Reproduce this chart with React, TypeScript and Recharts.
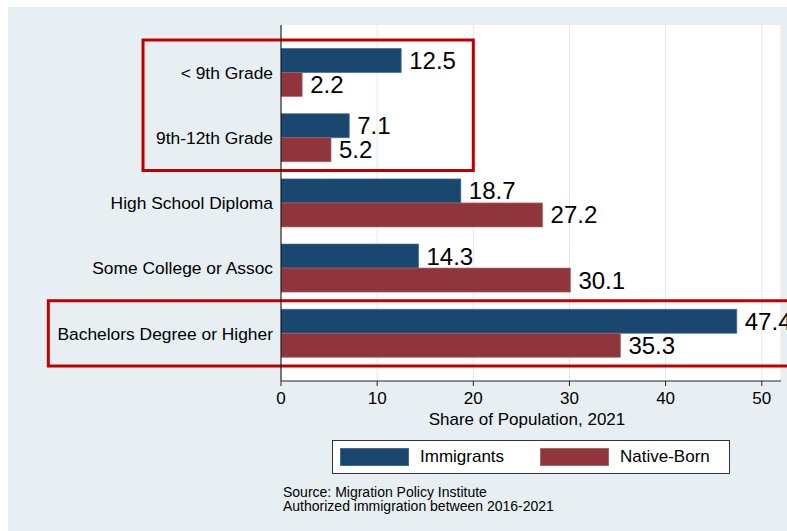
import {
  BarChart,
  Bar,
  XAxis,
  YAxis,
  CartesianGrid,
  LabelList,
  ReferenceArea,
  Label,
} from "recharts";

const categories = [
  "< 9th Grade",
  "9th-12th Grade",
  "High School Diploma",
  "Some College or Assoc",
  "Bachelors Degree or Higher",
];
const immigrants = [12.5, 7.1, 18.7, 14.3, 47.4];
const nativeBorn = [2.2, 5.2, 27.2, 30.1, 35.3];
const xTicks = [0, 10, 20, 30, 40, 50];

const data = categories.map((c, i) => ({
  category: c,
  immigrants: immigrants[i],
  nativeBorn: nativeBorn[i],
}));

const font = '"Liberation Sans", Arial, Helvetica, sans-serif';
const BLUE = "#1a476f";
const RED = "#90353b";
const FRAME = "#c00000";

export default function App() {
  return (
    <div
      style={{
        position: "absolute",
        left: 8,
        top: 7,
        width: 779,
        height: 524,
        background: "#e8eff2",
        fontFamily: font,
        overflow: "hidden",
      }}
    >
      <BarChart
        width={779}
        height={524}
        data={data}
        layout="vertical"
        margin={{ top: 18, right: 6, bottom: 100, left: 0 }}
        barCategoryGap={8.5}
        barGap={0}
        style={{ fontFamily: font }}
      >
        <CartesianGrid
          horizontal={false}
          stroke="#e1e9ed"
          fill="#ffffff"
        />
        <XAxis
          type="number"
          domain={[0, 52]}
          ticks={xTicks}
          tickSize={5}
          tickMargin={6}
          height={50}
          stroke="#222"
          tick={{ fill: "#000", fontSize: 17 }}
          allowDataOverflow
        >
          <Label
            value="Share of Population, 2021"
            position="insideBottom"
            offset={6}
            dx={-4}
            style={{ fill: "#000", fontSize: 17 }}
          />
        </XAxis>
        <YAxis
          type="category"
          dataKey="category"
          width={273}
          padding={{ top: 15, bottom: 15 }}
          tickLine={false}
          tickSize={0}
          tickMargin={8}
          stroke="#000"
          tick={{ fill: "#000", fontSize: 17.4 }}
          interval={0}
        />
        <Bar
          dataKey="immigrants"
          fill={BLUE}
          stroke="#46698c"
          strokeWidth={0.7}
          isAnimationActive={false}
        >
          <LabelList
            dataKey="immigrants"
            position="right"
            offset={8}
            style={{ fill: "#000", fontSize: 24 }}
          />
        </Bar>
        <Bar
          dataKey="nativeBorn"
          fill={RED}
          stroke="#a9666b"
          strokeWidth={0.7}
          isAnimationActive={false}
        >
          <LabelList
            dataKey="nativeBorn"
            position="right"
            offset={8}
            style={{ fill: "#000", fontSize: 24 }}
          />
        </Bar>
        <ReferenceArea
          x1={-14.35}
          x2={20}
          y1={categories[0]}
          y2={categories[1]}
          ifOverflow="visible"
          fill="none"
          stroke={FRAME}
          strokeWidth={3}
        />
        <ReferenceArea
          x1={-24.2}
          x2={54}
          y1={categories[4]}
          y2={categories[4]}
          ifOverflow="visible"
          fill="none"
          stroke={FRAME}
          strokeWidth={3}
        />
      </BarChart>

      {/* legend */}
      <div
        style={{
          position: "absolute",
          left: 324,
          top: 433,
          width: 398,
          height: 34,
          boxSizing: "border-box",
          border: "1px solid #333",
          background: "#fff",
          fontSize: 17,
          color: "#000",
        }}
      >
        {[
          { name: "Immigrants", color: BLUE, border: "#46698c", left: 7 },
          { name: "Native-Born", color: RED, border: "#a9666b", left: 207 },
        ].map((s) => (
          <div key={s.name}>
            <div
              style={{
                position: "absolute",
                left: s.left,
                top: 7,
                width: 69,
                height: 18,
                boxSizing: "border-box",
                background: s.color,
                border: `1px solid ${s.border}`,
              }}
            />
            <div
              style={{
                position: "absolute",
                left: s.left + 80,
                top: 6,
                lineHeight: "20px",
              }}
            >
              {s.name}
            </div>
          </div>
        ))}
      </div>

      {/* source note */}
      <div
        style={{
          position: "absolute",
          left: 275,
          top: 478,
          fontSize: 14,
          lineHeight: "14.3px",
          color: "#000",
        }}
      >
        <div>Source: Migration Policy Institute</div>
        <div>Authorized immigration between 2016-2021</div>
      </div>
    </div>
  );
}
